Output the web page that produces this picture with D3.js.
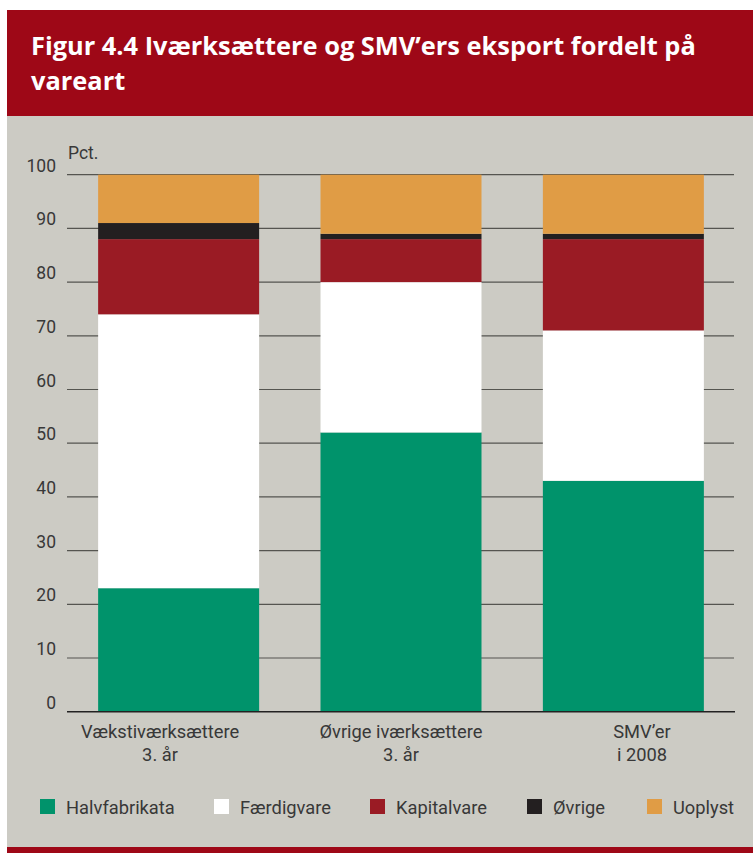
<!DOCTYPE html>
<html>
<head>
<meta charset="utf-8">
<script src="https://cdn.jsdelivr.net/npm/d3@7"></script>
<style>
  html, body { margin: 0; padding: 0; background: #ffffff; }
  svg { display: block; }
  .tick-label, .cat-label, .legend-label, .unit-label {
    font-family: Roboto, "Noto Sans", sans-serif;
    fill: #383838;
  }
</style>
</head>
<body>
<svg id="chart" width="753" height="853"></svg>
<script>
// Export composition by product type, percent of each group
const categories = [
  ["Vækstiværksættere", "3. år"],
  ["Øvrige iværksættere", "3. år"],
  ["SMV’er", "i 2008"]
];
const seriesNames = ["Halvfabrikata", "Færdigvare", "Kapitalvare", "Øvrige", "Uoplyst"];
const halvfabrikata = [23, 52, 43];
const faerdigvare   = [51, 28, 28];
const kapitalvare   = [14, 8, 17];
const oevrige       = [3, 1, 1];
const uoplyst       = [9, 11, 11];
const yTicks = [0, 10, 20, 30, 40, 50, 60, 70, 80, 90, 100];
const titleLines = ["Figur 4.4 Iværksættere og SMV’ers eksport fordelt på", "vareart"];

const colors = ["#00936b", "#ffffff", "#9a1b24", "#231f20", "#e09c45"];

const rows = categories.map((c, i) => ({
  key: c.join(" "),
  lines: c,
  Halvfabrikata: halvfabrikata[i],
  "Færdigvare": faerdigvare[i],
  Kapitalvare: kapitalvare[i],
  "Øvrige": oevrige[i],
  Uoplyst: uoplyst[i]
}));

const svg = d3.select("#chart");

// Panels
svg.append("rect").attr("x", 7).attr("y", 10).attr("width", 746).attr("height", 106).attr("fill", "#9e0817");
svg.append("rect").attr("x", 7).attr("y", 116).attr("width", 746).attr("height", 731).attr("fill", "#cccbc4");
svg.append("rect").attr("x", 7).attr("y", 847).attr("width", 746).attr("height", 6).attr("fill", "#9e0817");

// Title
const title = svg.append("text")
  .attr("x", 31)
  .attr("font-family", "'Open Sans', 'Noto Sans', sans-serif")
  .attr("font-weight", 700)
  .attr("font-size", 25.4)
  .attr("fill", "#ffffff");
titleLines.forEach((t, i) => {
  title.append("tspan").attr("x", 31).attr("y", 55 + i * 35).text(t);
});

// Scales
const x = d3.scaleBand()
  .domain(rows.map(d => d.key))
  .range([67, 735])
  .paddingInner(0.276)
  .paddingOuter(0.14);

const labelX = d3.scalePoint()
  .domain(rows.map(d => d.key))
  .range([160, 642]);

const y = d3.scaleLinear().domain([0, 100]).range([711.7, 174.7]);

// Gridlines
svg.append("g")
  .selectAll("line")
  .data(yTicks.filter(t => t > 0))
  .join("line")
  .attr("x1", 67).attr("x2", 734)
  .attr("y1", d => y(d)).attr("y2", d => y(d))
  .attr("stroke", "#555550")
  .attr("stroke-width", 1.2);

// Y tick labels
svg.append("g")
  .selectAll("text")
  .data(yTicks)
  .join("text")
  .attr("class", "tick-label")
  .attr("x", 56)
  .attr("y", d => y(d) - 3)
  .attr("text-anchor", "end")
  .attr("font-size", 17.5)
  .text(d => d);

svg.append("text")
  .attr("class", "unit-label")
  .attr("x", 68)
  .attr("y", 159)
  .attr("font-size", 17.5)
  .text("Pct.");

// Stacked bars
const stack = d3.stack().keys(seriesNames);
const layers = stack(rows);

svg.append("g")
  .selectAll("g")
  .data(layers)
  .join("g")
  .attr("fill", (d, i) => colors[i])
  .selectAll("rect")
  .data(d => d)
  .join("rect")
  .attr("x", d => x(d.data.key))
  .attr("width", x.bandwidth())
  .attr("y", d => y(d[1]))
  .attr("height", d => y(d[0]) - y(d[1]));

// Baseline
svg.append("line")
  .attr("x1", 67).attr("x2", 735)
  .attr("y1", y(0)).attr("y2", y(0))
  .attr("stroke", "#222222")
  .attr("stroke-width", 1.6);

// Category labels
const cat = svg.append("g")
  .selectAll("text")
  .data(rows)
  .join("text")
  .attr("class", "cat-label")
  .attr("text-anchor", "middle")
  .attr("font-size", 18.3);
cat.each(function (d) {
  const t = d3.select(this);
  d.lines.forEach((line, i) => {
    t.append("tspan")
      .attr("x", labelX(d.key))
      .attr("y", 738 + i * 22.5)
      .text(line);
  });
});

// Legend
const legendSquareX = [40, 214, 370, 527, 647];
const legend = svg.append("g")
  .selectAll("g")
  .data(seriesNames)
  .join("g")
  .attr("transform", (d, i) => `translate(${legendSquareX[i]},799)`);
legend.append("rect")
  .attr("width", 15).attr("height", 15)
  .attr("fill", (d, i) => colors[i]);
legend.append("text")
  .attr("class", "legend-label")
  .attr("x", 26)
  .attr("y", 15)
  .attr("font-size", 18.3)
  .text(d => d);
</script>
</body>
</html>
